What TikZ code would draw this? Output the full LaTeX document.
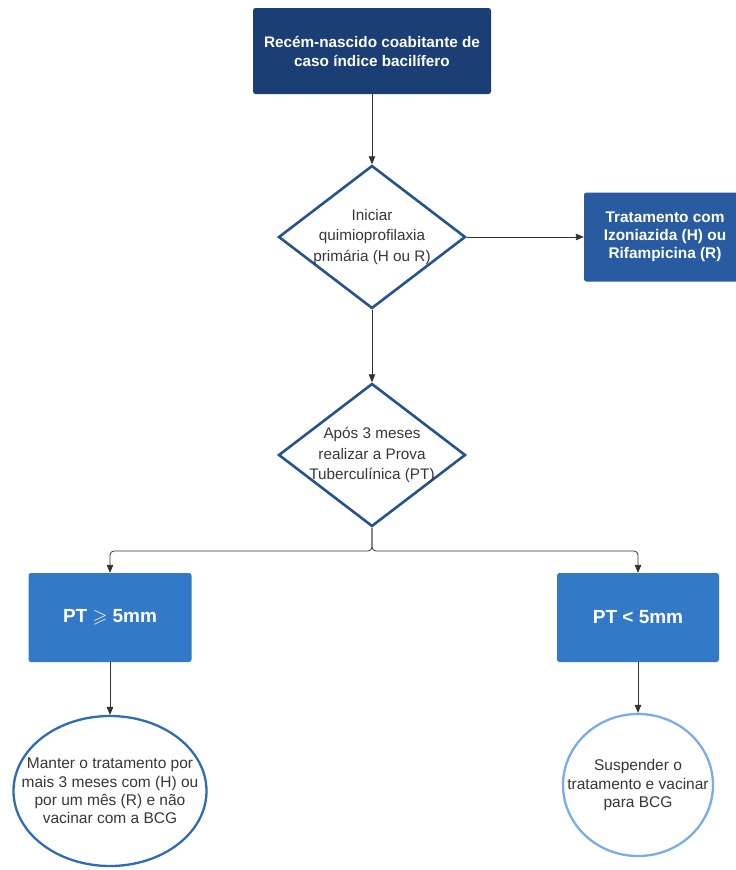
\documentclass[tikz,border=0pt]{standalone}
\usepackage{fontspec}
\setmainfont{Liberation Sans}
\usepackage{amssymb}
\usetikzlibrary{shapes,arrows}

\begin{document}
\begin{tikzpicture}[x=1pt,y=-1pt,
  caixa/.style={rectangle,rounded corners=2.5pt,text=white,align=center,inner sep=0pt,font=\bfseries\fontsize{15.3}{19}\selectfont},
  decisao/.style={diamond,shape aspect=1.31,draw=losColor,line width=2.6pt,fill=white,align=center,text=txtColor,inner xsep=-6pt,inner ysep=0pt,minimum width=187pt,minimum height=143pt,font=\fontsize{15.3}{20.5}\selectfont},
  desfecho/.style={ellipse,line width=2.3pt,fill=white,align=center,text=txtColor,inner xsep=-22pt,inner ysep=0pt,font=\fontsize{15.5}{18.4}\selectfont},
  seta/.style={->,>=triangle 45,color=setaColor,line width=0.8pt}]
\definecolor{topoColor}{RGB}{27,63,117}
\definecolor{tratColor}{RGB}{41,91,160}
\definecolor{ptColor}{RGB}{50,121,200}
\definecolor{losColor}{RGB}{37,84,141}
\definecolor{elAColor}{RGB}{46,108,180}
\definecolor{elBColor}{RGB}{122,172,232}
\definecolor{txtColor}{RGB}{55,55,55}
\definecolor{setaColor}{RGB}{50,50,50}
\useasboundingbox (0,0) rectangle (736,870);
\clip (0,0) rectangle (736,870);

\node[caixa,fill=topoColor,minimum width=238pt,minimum height=86pt] (recem) at (372,51)
  {Recém-nascido coabitante de\\caso índice bacilífero};
\node[decisao] (inicio) at (372,237) {Iniciar\\quimioprofilaxia\\primária (H ou R)};
\node[caixa,fill=tratColor,minimum width=162pt,minimum height=89pt,font=\bfseries\fontsize{15.4}{17.8}\selectfont] (trat) at (665,237)
  {Tratamento com\\Izoniazida (H) ou\\Rifampicina (R)};
\node[decisao] (prova) at (372,455) {Após 3 meses\\realizar a Prova\\Tuberculínica (PT)};
\coordinate (split) at (372,551);
\node[caixa,fill=ptColor,minimum width=163pt,minimum height=89pt,font=\bfseries\fontsize{19}{22}\selectfont] (ptmaior) at (110,617.5)
  {PT $\geqslant$ 5mm};
\node[caixa,fill=ptColor,minimum width=162pt,minimum height=89pt,font=\bfseries\fontsize{19}{22}\selectfont] (ptmenor) at (638,617.5)
  {PT < 5mm};
\node[desfecho,draw=elAColor,minimum width=193pt,minimum height=150pt] (manter) at (110,791)
  {Manter o tratamento por\\mais 3 meses com (H) ou\\por um mês (R) e não\\vacinar com a BCG};
\node[desfecho,draw=elBColor,minimum width=150pt,minimum height=142pt] (suspender) at (638,785)
  {Suspender o\\tratamento e vacinar\\para BCG};

\draw[seta] (recem.south) -- (inicio.north);
\draw[seta] (inicio.east) -- (trat.west);
\draw[seta] (inicio.south) -- (prova.north);
\draw[seta,rounded corners=4pt] (prova.south) -- (split) -| (ptmaior.north);
\draw[seta,rounded corners=4pt] (prova.south) -- (split) -| (ptmenor.north);
\draw[seta] (ptmaior.south) -- (manter.north);
\draw[seta] (ptmenor.south) -- (suspender.north);
\end{tikzpicture}
\end{document}
